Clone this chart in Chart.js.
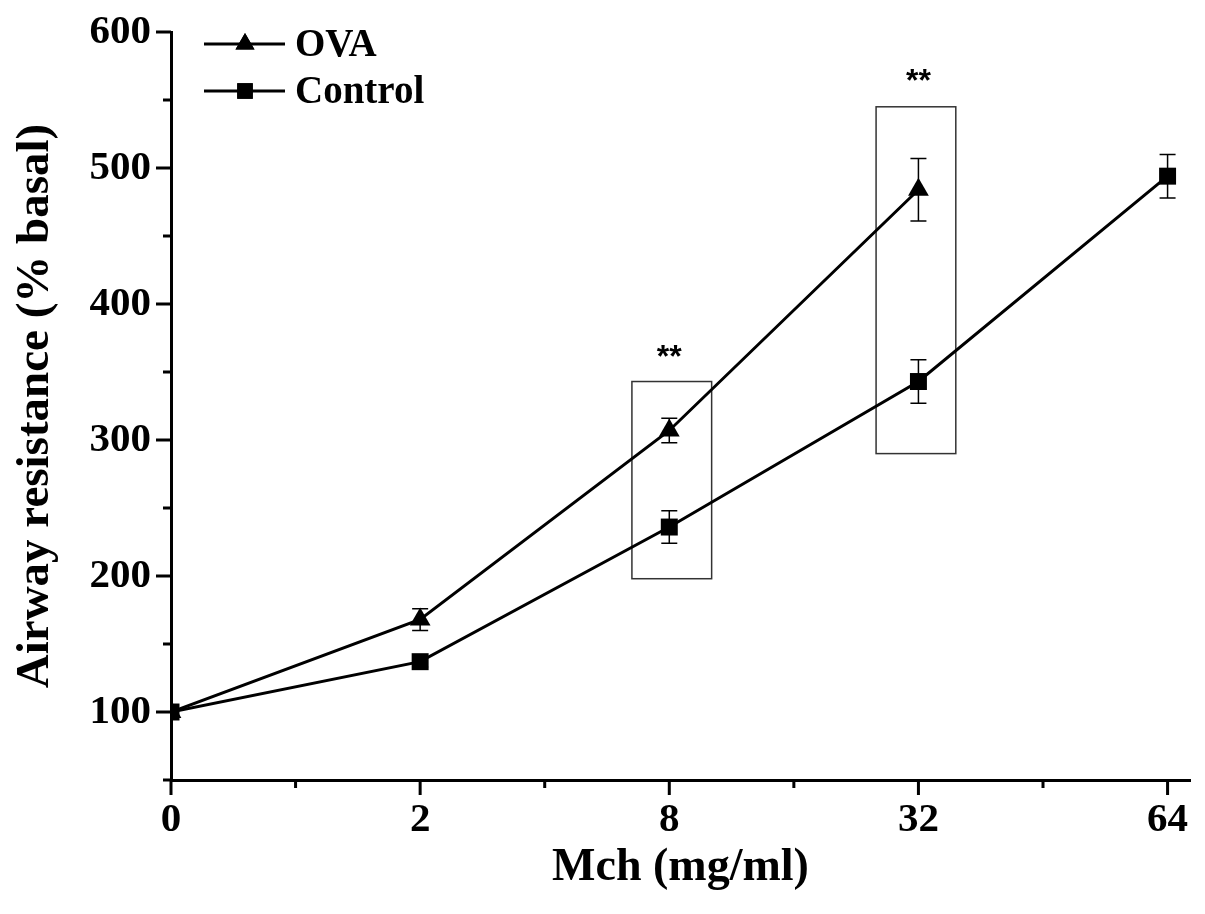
<!DOCTYPE html>
<html>
<head>
<meta charset="utf-8">
<script src="https://cdn.jsdelivr.net/npm/chart.js@4.4.1/dist/chart.umd.min.js"></script>
<style>
html, body { margin: 0; padding: 0; background: #fff; }
#wrap { width: 1205px; height: 914px; }
</style>
</head>
<body>
<div id="wrap"><canvas id="myChart" width="1205" height="914"></canvas></div>
<script>
// Mch doses are plotted at evenly spaced positions
var doseLabels = ["0", "2", "8", "32", "64"];
var dosePos = [0, 1, 2, 3, 4];
var xTickVals = [0, 0.5, 1, 1.5, 2, 2.5, 3, 3.5, 4];
var yTickVals = [50, 100, 150, 200, 250, 300, 350, 400, 450, 500, 550, 600];

var ovaValues = [100, 168, 307, 484];
var ovaErrors = [0, 8, 9, 23];
var controlValues = [100, 137, 236, 343, 494];
var controlErrors = [0, 4, 12, 16, 16];

// significance boxes: [xFrom, xTo, yFrom, yTo] in data units
var sigBoxes = [[1.85, 2.17, 198, 343], [2.83, 3.15, 290, 545]];
var sigMarks = [[2, 367], [3, 570]];

var serif = "'Liberation Serif', 'Times New Roman', serif";

function toPoints(vals) {
    return vals.map(function (v, i) { return { x: dosePos[i], y: v }; });
}

var extras = {
    id: 'extras',
    beforeDatasetsDraw: function (chart) {
        var ctx = chart.ctx, xs = chart.scales.x, ys = chart.scales.y;
        ctx.save();
        // boxes around significant points
        ctx.strokeStyle = '#333';
        ctx.lineWidth = 1.5;
        sigBoxes.forEach(function (b) {
            var x1 = xs.getPixelForValue(b[0]), x2 = xs.getPixelForValue(b[1]);
            var y1 = ys.getPixelForValue(b[3]), y2 = ys.getPixelForValue(b[2]);
            ctx.strokeRect(x1, y1, x2 - x1, y2 - y1);
        });
        // error bars
        ctx.strokeStyle = '#000';
        ctx.lineWidth = 1.5;
        var bars = [[ovaValues, ovaErrors], [controlValues, controlErrors]];
        bars.forEach(function (s) {
            s[0].forEach(function (v, i) {
                var e = s[1][i];
                if (!e) return;
                var x = xs.getPixelForValue(dosePos[i]);
                var top = ys.getPixelForValue(v + e), bot = ys.getPixelForValue(v - e);
                ctx.beginPath();
                ctx.moveTo(x, top); ctx.lineTo(x, bot);
                ctx.moveTo(x - 8, top); ctx.lineTo(x + 8, top);
                ctx.moveTo(x - 8, bot); ctx.lineTo(x + 8, bot);
                ctx.stroke();
            });
        });
        ctx.restore();
    },
    afterDraw: function (chart) {
        var ctx = chart.ctx, xs = chart.scales.x, ys = chart.scales.y;
        var area = chart.chartArea;
        ctx.save();
        ctx.strokeStyle = '#000';
        ctx.lineWidth = 3;
        ctx.beginPath();
        // tick marks, long on labelled ticks
        xs.ticks.forEach(function (t) {
            var x = xs.getPixelForValue(t.value);
            var len = Number.isInteger(t.value) ? 15 : 8;
            ctx.moveTo(x, area.bottom); ctx.lineTo(x, area.bottom + len);
        });
        ys.ticks.forEach(function (t) {
            var y = ys.getPixelForValue(t.value);
            var len = t.value % 100 === 0 ? 15 : 8;
            ctx.moveTo(area.left, y); ctx.lineTo(area.left - len, y);
        });
        ctx.stroke();

        // significance asterisks
        ctx.fillStyle = '#000';
        ctx.font = "bold 32px 'Liberation Sans', Arial, sans-serif";
        ctx.textAlign = 'center';
        ctx.textBaseline = 'alphabetic';
        sigMarks.forEach(function (m) {
            ctx.fillText('**', xs.getPixelForValue(m[0]), ys.getPixelForValue(m[1]) + 18);
        });

        // legend
        ctx.font = 'bold 39px ' + serif;
        ctx.textAlign = 'left';
        ctx.textBaseline = 'middle';
        chart.data.datasets.forEach(function (ds, i) {
            var y = 44 + i * 47;
            ctx.lineWidth = 3;
            ctx.beginPath();
            ctx.moveTo(204, y); ctx.lineTo(285, y);
            ctx.stroke();
            Chart.helpers.drawPoint(ctx, { pointStyle: ds.pointStyle, radius: 11, rotation: 0, borderWidth: 0 }, 245, y);
            ctx.fill();
            ctx.fillText(ds.label, 295, y + 2);
        });
        ctx.restore();
    }
};

var ctx = document.getElementById('myChart').getContext('2d');

var myChart = new Chart(ctx, {
    type: 'line',
    data: {
        datasets: [{
            label: 'OVA',
            data: toPoints(ovaValues),
            borderColor: '#000',
            backgroundColor: '#000',
            borderWidth: 3,
            pointStyle: 'triangle',
            pointRadius: 12,
            pointBorderWidth: 0
        }, {
            label: 'Control',
            data: toPoints(controlValues),
            borderColor: '#000',
            backgroundColor: '#000',
            borderWidth: 3,
            pointStyle: 'rect',
            pointRadius: 12,
            pointBorderWidth: 0
        }]
    },
    options: {
        responsive: false,
        animation: false,
        layout: { padding: { left: 0, right: 15, top: 32, bottom: 0 } },
        plugins: { legend: { display: false }, tooltip: { enabled: false } },
        scales: {
            x: {
                type: 'linear',
                min: 0,
                max: 4.09,
                afterBuildTicks: function (scale) {
                    scale.ticks = xTickVals.map(function (v) { return { value: v }; });
                },
                afterFit: function (scale) {
                    scale.height = 134;
                    scale.paddingLeft = 0;
                    scale.paddingRight = 0;
                },
                ticks: {
                    padding: 16,
                    color: '#000',
                    font: { family: serif, size: 41, weight: 'bold' },
                    maxRotation: 0,
                    autoSkip: false,
                    callback: function (v) {
                        return Number.isInteger(v) ? doseLabels[v] : '';
                    }
                },
                grid: { drawOnChartArea: false, drawTicks: false },
                border: { display: true, color: '#000', width: 3 },
                title: {
                    display: true,
                    text: 'Mch (mg/ml)',
                    color: '#000',
                    font: { family: serif, size: 46, weight: 'bold' },
                    padding: { top: 0, bottom: 18 }
                }
            },
            y: {
                min: 50,
                max: 600,
                afterBuildTicks: function (scale) {
                    scale.ticks = yTickVals.map(function (v) { return { value: v }; });
                },
                afterFit: function (scale) {
                    scale.width = 171;
                    scale.paddingTop = 0;
                    scale.paddingBottom = 0;
                },
                ticks: {
                    padding: 20,
                    color: '#000',
                    font: { family: serif, size: 41, weight: 'bold' },
                    autoSkip: false,
                    callback: function (v) { return v % 100 === 0 ? v : ''; }
                },
                grid: { drawOnChartArea: false, drawTicks: false },
                border: { display: true, color: '#000', width: 3 },
                title: {
                    display: true,
                    text: 'Airway resistance (% basal)',
                    color: '#000',
                    font: { family: serif, size: 47, weight: 'bold' },
                    padding: { top: 8, bottom: 0 }
                }
            }
        }
    },
    plugins: [extras]
});
</script>
</body>
</html>
